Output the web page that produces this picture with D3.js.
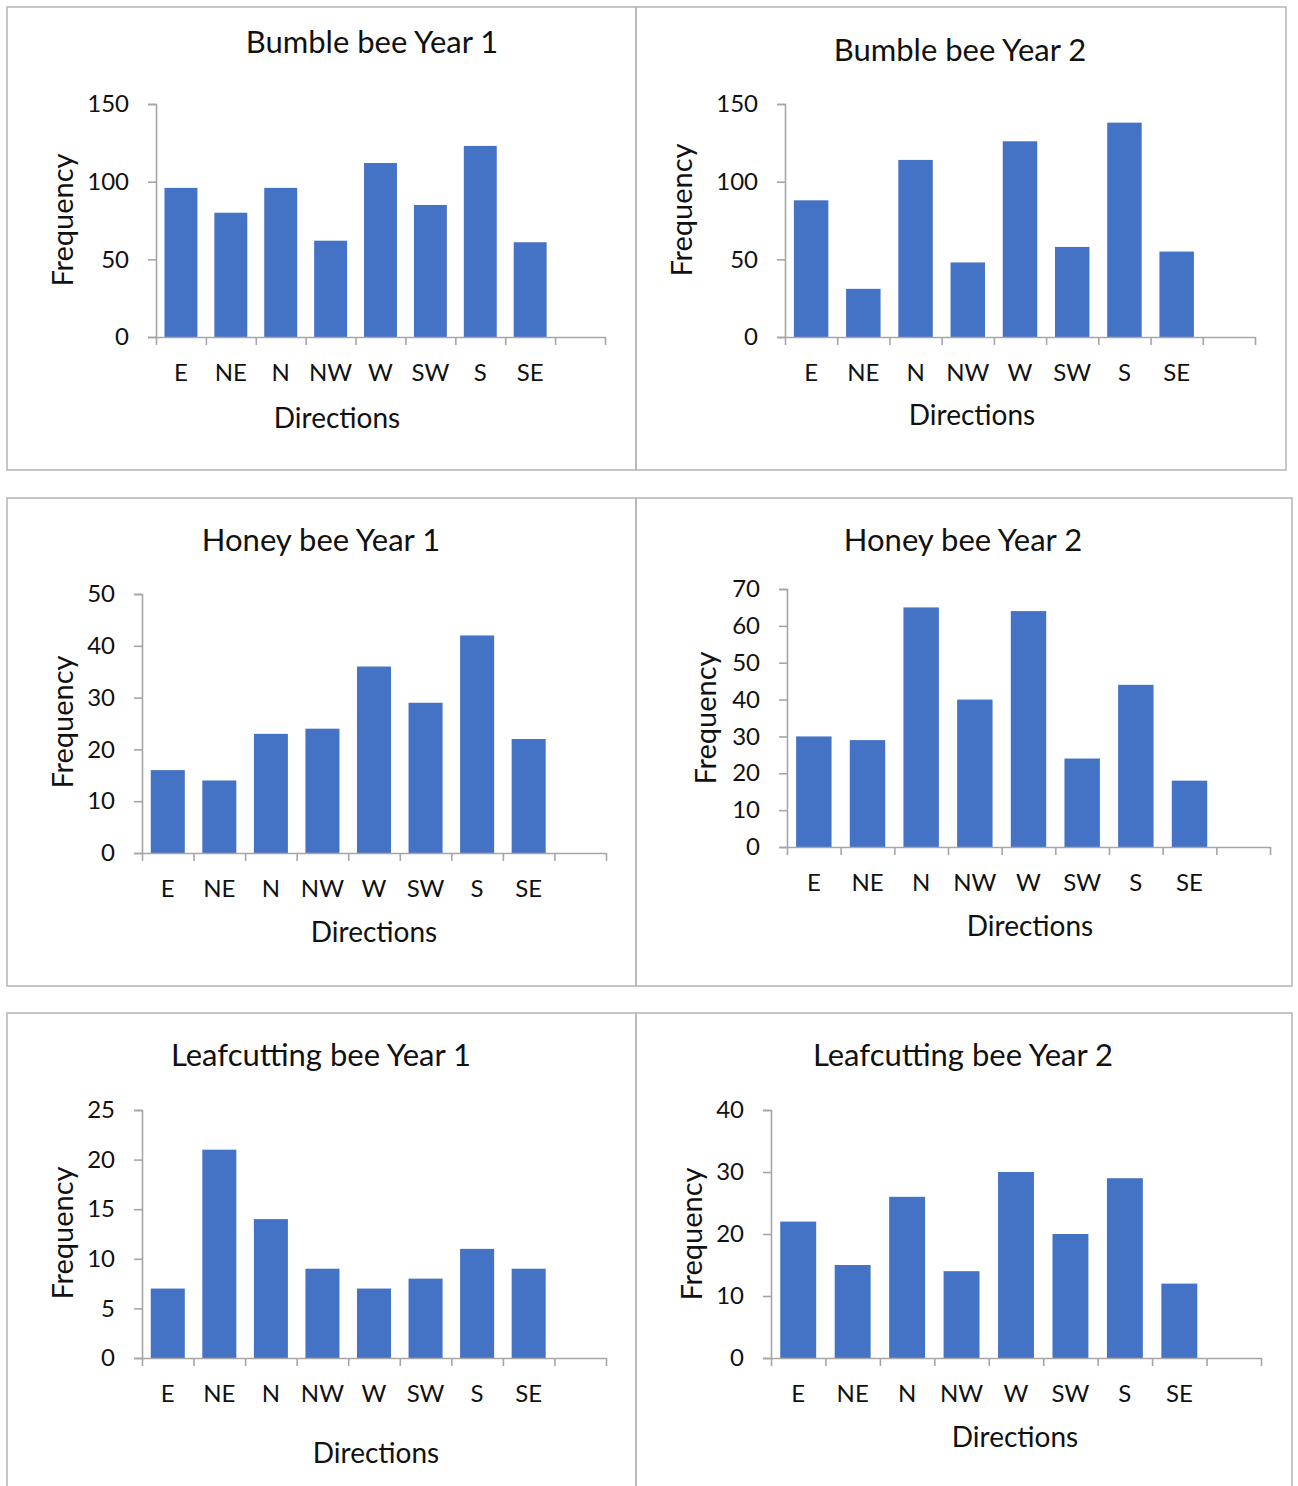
<!DOCTYPE html>
<html>
<head>
<meta charset="utf-8">
<script src="https://cdn.jsdelivr.net/npm/d3@7"></script>
<style>
  html, body { margin: 0; padding: 0; background: #fff; }
  svg { display: block; }
  text { font-family: Lato, "Open Sans", sans-serif; fill: #111; }
</style>
</head>
<body>
<svg id="chart" width="1298" height="1486"></svg>
<script>
// ---------- DATA ----------
const categories = ["E", "NE", "N", "NW", "W", "SW", "S", "SE"];
const chartTitles = ["Bumble bee Year 1", "Bumble bee Year 2", "Honey bee Year 1",
                     "Honey bee Year 2", "Leafcutting bee Year 1", "Leafcutting bee Year 2"];
const bumbleYear1 = [96, 80, 96, 62, 112, 85, 123, 61];
const bumbleYear2 = [88, 31, 114, 48, 126, 58, 138, 55];
const honeyYear1  = [16, 14, 23, 24, 36, 29, 42, 22];
const honeyYear2  = [30, 29, 65, 40, 64, 24, 44, 18];
const leafYear1   = [7, 21, 14, 9, 7, 8, 11, 9];
const leafYear2   = [22, 15, 26, 14, 30, 20, 29, 12];
const ticksBumble = [0, 50, 100, 150];
const ticksHoney1 = [0, 10, 20, 30, 40, 50];
const ticksHoney2 = [0, 10, 20, 30, 40, 50, 60, 70];
const ticksLeaf1  = [0, 5, 10, 15, 20, 25];
const ticksLeaf2  = [0, 10, 20, 30, 40];
const xAxisTitle = "Directions";
const yAxisTitle = "Frequency";

const seriesList = [bumbleYear1, bumbleYear2, honeyYear1, honeyYear2, leafYear1, leafYear2];
const tickList   = [ticksBumble, ticksBumble, ticksHoney1, ticksHoney2, ticksLeaf1, ticksLeaf2];

// ---------- LAYOUT (positions only) ----------
const layout = [
  { box: [7, 7, 636, 470],     x0: 156, x1: 605,  yTop: 104,  y0: 337,  title: [372, 53],   freq: [73, 220],   dir: [337, 428] },
  { box: [636, 7, 1286, 470],  x0: 785, x1: 1255, yTop: 104,  y0: 337,  title: [960, 61],   freq: [692, 210],  dir: [972, 425] },
  { box: [7, 498, 636, 986],   x0: 142, x1: 606,  yTop: 594,  y0: 853,  title: [321, 551],  freq: [73, 722],   dir: [374, 942] },
  { box: [636, 498, 1292, 986],x0: 787, x1: 1270, yTop: 589,  y0: 847,  title: [963, 551],  freq: [716, 718],  dir: [1030, 936] },
  { box: [7, 1013, 636, 1500], x0: 142, x1: 606,  yTop: 1110, y0: 1358, title: [321, 1066], freq: [73, 1233],  dir: [376, 1463] },
  { box: [636, 1013, 1292, 1500], x0: 771, x1: 1261, yTop: 1110, y0: 1358, title: [963, 1066], freq: [702, 1234], dir: [1015, 1447] }
];

const BAR = "#4472C4";
const AXIS = "#a6a6a6";
const BORDER = "#b8b8b8";

const svg = d3.select("#chart");
svg.append("rect").attr("width", 1298).attr("height", 1486).attr("fill", "#fff");

seriesList.forEach((values, i) => {
  const L = layout[i];
  const ticks = tickList[i];
  const g = svg.append("g");

  // panel border
  g.append("rect")
    .attr("x", L.box[0]).attr("y", L.box[1])
    .attr("width", L.box[2] - L.box[0]).attr("height", L.box[3] - L.box[1])
    .attr("fill", "none").attr("stroke", BORDER).attr("stroke-width", 1.6);

  const slots = categories.concat(["__blank"]);
  const x = d3.scaleBand().domain(slots).range([L.x0, L.x1])
    .paddingInner(0.34).paddingOuter(0.17);
  const xEdges = d3.scaleLinear().domain([0, slots.length]).range([L.x0, L.x1]);
  const y = d3.scaleLinear().domain([0, d3.max(ticks)]).range([L.y0, L.yTop]);

  // bars
  g.selectAll("rect.bar").data(values).enter().append("rect")
    .attr("class", "bar")
    .attr("x", (d, k) => x(categories[k]))
    .attr("width", x.bandwidth())
    .attr("y", d => y(d))
    .attr("height", d => y(0) - y(d))
    .attr("fill", BAR);

  // y axis
  const yAx = g.append("g").attr("transform", `translate(${L.x0},0)`)
    .call(d3.axisLeft(y).tickValues(ticks).tickSize(8).tickPadding(19).tickFormat(d3.format("d")));
  yAx.select(".domain").attr("stroke", AXIS).attr("stroke-width", 1.6);
  yAx.selectAll(".tick line").attr("stroke", AXIS).attr("stroke-width", 1.6);
  yAx.selectAll(".tick text").attr("font-size", 24).attr("font-family", "Lato").attr("fill", "#111");

  // x axis boundary ticks
  const xEdgeAx = g.append("g").attr("transform", `translate(0,${L.y0})`)
    .call(d3.axisBottom(xEdges).tickValues(d3.range(0, slots.length + 1)).tickSize(8).tickSizeOuter(0).tickFormat(""));
  xEdgeAx.select(".domain").attr("stroke", AXIS).attr("stroke-width", 1.6);
  xEdgeAx.selectAll(".tick line").attr("stroke", AXIS).attr("stroke-width", 1.6);

  // x category labels
  const xAx = g.append("g").attr("transform", `translate(0,${L.y0})`)
    .call(d3.axisBottom(x).tickValues(categories).tickSize(0).tickPadding(27));
  xAx.select(".domain").remove();
  xAx.selectAll(".tick text").attr("font-size", 24).attr("font-family", "Lato").attr("fill", "#111");

  // title
  g.append("text").attr("x", L.title[0]).attr("y", L.title[1])
    .attr("text-anchor", "middle").attr("font-size", 31).text(chartTitles[i]);

  // x axis title
  g.append("text").attr("x", L.dir[0]).attr("y", L.dir[1])
    .attr("text-anchor", "middle").attr("font-size", 28).text(xAxisTitle);

  // y axis title
  g.append("text").attr("transform", `translate(${L.freq[0]},${L.freq[1]}) rotate(-90)`)
    .attr("text-anchor", "middle").attr("font-size", 29).text(yAxisTitle);
});
</script>
</body>
</html>
